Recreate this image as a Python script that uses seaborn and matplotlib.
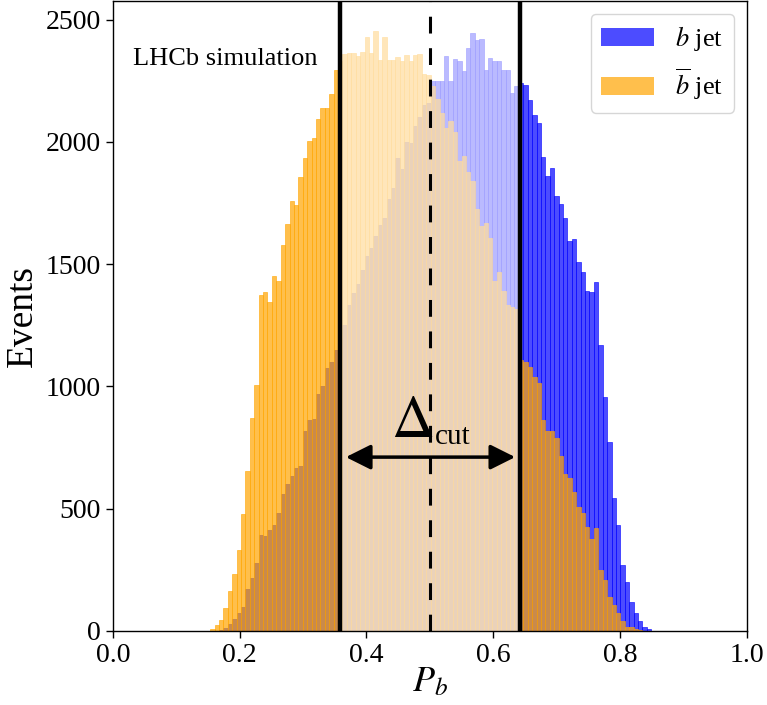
import numpy as np
import pandas as pd
import matplotlib
matplotlib.use('Agg')
import matplotlib.pyplot as plt
import seaborn as sns
from matplotlib.patches import Patch

# bin edges of the P_b histogram (100 bins)
bin_lo = 0.1535
bin_hi = 0.849
n_bins = 100

# events per bin
b_jet = [0, 2, 5, 13, 30, 50, 75, 100, 170, 215,
         278, 392, 387, 412, 433, 483, 562, 600, 633, 667,
         675, 817, 862, 867, 970, 1000, 1075, 1100, 1150, 1200,
         1250, 1333, 1380, 1417, 1475, 1533, 1567, 1614, 1662, 1687,
         1768, 1813, 1934, 1890, 2000, 1995, 2065, 2100, 2150, 2158,
         2250, 2250, 2250, 2350, 2250, 2337, 2329, 2289, 2384, 2447,
         2417, 2420, 2295, 2342, 2329, 2329, 2295, 2295, 2200, 2228,
         2240, 2234, 2170, 2109, 2079, 1939, 1859, 1895, 1779, 1747,
         1689, 1595, 1604, 1509, 1467, 1392, 1387, 1429, 1171, 955,
         772, 545, 433, 270, 200, 117, 72, 42, 17, 7]

bbar_jet = [8, 25, 45, 92, 162, 233, 333, 478, 653, 872,
            1005, 1372, 1387, 1347, 1453, 1432, 1578, 1665, 1758, 1742,
            1855, 1932, 2005, 2015, 2092, 2138, 2138, 2195, 2292, 2330,
            2358, 2365, 2362, 2350, 2367, 2430, 2362, 2454, 2334, 2430,
            2334, 2334, 2345, 2330, 2355, 2330, 2354, 2359, 2279, 2275,
            2230, 2175, 2120, 2058, 2087, 2042, 1920, 1942, 1875, 1842,
            1725, 1658, 1667, 1608, 1433, 1467, 1392, 1333, 1325, 1315,
            1110, 1100, 1079, 1037, 1014, 864, 817, 817, 789, 714,
            642, 625, 570, 509, 483, 425, 375, 420, 250, 208,
            138, 108, 75, 42, 17, 17, 8, 3, 1, 0]

cut_lo, cut_hi = 0.358, 0.642
x_ticks = [0.0, 0.2, 0.4, 0.6, 0.8, 1.0]
y_ticks = [0, 500, 1000, 1500, 2000, 2500]

edges = np.linspace(bin_lo, bin_hi, n_bins + 1)
df = pd.DataFrame({'P_b': 0.5 * (edges[:-1] + edges[1:]),
                   'b': b_jet, 'bbar': bbar_jet})

sns.set_style('ticks')
plt.rcParams['font.family'] = ['Liberation Serif', 'DejaVu Serif']
plt.rcParams['mathtext.fontset'] = 'stix'
for k in ['text.color', 'axes.labelcolor', 'xtick.color', 'ytick.color']:
    plt.rcParams[k] = 'black'

fig = plt.figure(figsize=(7.67, 7.05), dpi=100)
ax = fig.add_axes([112.8 / 767, 74 / 705, 634.2 / 767, 630.5 / 705])

sns.histplot(data=df, x='P_b', weights='b', bins=edges.tolist(), color='blue', alpha=0.7,
             edgecolor='blue', linewidth=0.4, ax=ax)
sns.histplot(data=df, x='P_b', weights='bbar', bins=edges.tolist(), color='orange', alpha=0.7,
             edgecolor='orange', linewidth=0.4, ax=ax)

# fade the region inside the cut
ax.axvspan(cut_lo, cut_hi, color='white', alpha=0.62, lw=0, zorder=2)
ax.axvline(cut_lo, color='black', lw=3.2, zorder=3)
ax.axvline(cut_hi, color='black', lw=3.2, zorder=3)
ax.axvline(0.5, color='black', lw=2.2, linestyle=(0, (5.5, 4.8)), zorder=3)

ax.annotate('', xy=(0.3675, 711), xytext=(0.6345, 711),
            arrowprops=dict(arrowstyle='<|-|>', lw=2.5, color='black',
                            mutation_scale=38, shrinkA=0, shrinkB=0), zorder=4)
ax.text(0.439, 795, r'$\Delta$', fontsize=43, ha='left', va='baseline', zorder=4)
ax.text(0.508, 766, 'cut', fontsize=21, ha='left', va='baseline', zorder=4)
ax.text(0.032, 0.897, 'LHCb simulation', fontsize=19, transform=ax.transAxes,
        ha='left', va='baseline')

ax.set_xlim(0, 1)
ax.set_ylim(0, 2578)
ax.set_xticks(x_ticks)
ax.set_xticklabels([f'{t:.1f}' for t in x_ticks])
ax.set_yticks(y_ticks)
ax.tick_params(labelsize=20, length=5, width=1, color='black')
ax.set_xlabel(r'$P_b$', fontsize=26, labelpad=-1)
ax.set_ylabel('Events', fontsize=27)
for s in ax.spines.values():
    s.set_visible(True)
    s.set_color('black')
    s.set_linewidth(1)

handles = [Patch(facecolor='blue', alpha=0.7, lw=0),
           Patch(facecolor='orange', alpha=0.7, lw=0)]
ax.legend(handles, [r'$b$ jet', r'$\overline{b}$ jet'], loc='upper right',
          fontsize=19, frameon=True)

fig.savefig('out.png', dpi=100)
